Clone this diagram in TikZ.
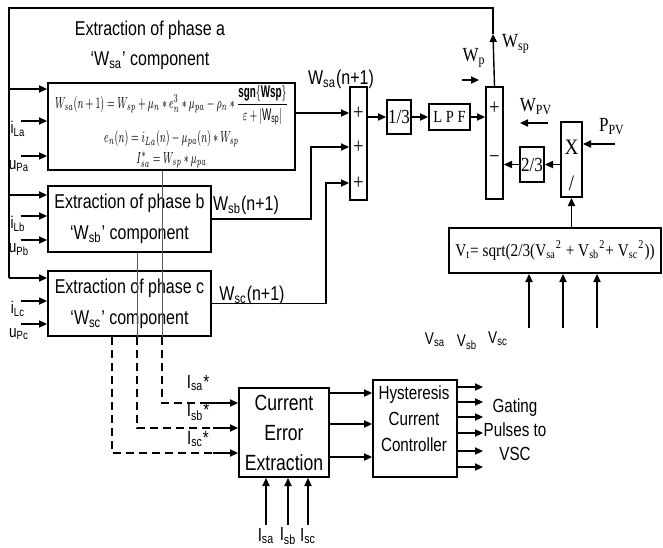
\documentclass[tikz,border=0pt]{standalone}
\usepackage{amsmath}
\usepackage{graphicx}
\usepackage{fontspec}
\setmainfont{Liberation Sans}
\newfontfamily\narrowsans[FakeStretch=0.8]{Liberation Sans}
\newfontfamily\narrowserif[FakeStretch=0.85]{Liberation Serif}
\usetikzlibrary{arrows.meta,calc}

\begin{document}
\begin{tikzpicture}[
    x=0.5pt, y=-0.5pt,
    >={Triangle[length=4pt,width=3.6pt]},
    line width=0.7pt,
    block/.style={
        rectangle,
        draw,
        line width=1pt,
        inner sep=0pt,
        align=center
    },
    sum bar/.style={
        block,
        minimum width=8.5pt,
        minimum height=56.5pt
    },
    sans/.style n args={2}{
        font=\narrowsans\fontsize{#1}{#2}\selectfont,
        inner sep=0pt,
        align=center
    },
    serif/.style n args={2}{
        font=\narrowserif\fontsize{#1}{#2}\selectfont,
        inner sep=0pt,
        align=center
    },
    guide line/.style={
        draw=black!65,
        line width=0.4pt
    },
    ref dash/.style={
        draw,
        line width=0.6pt,
        dash pattern=on 4pt off 2.5pt
    }
]
\useasboundingbox (0,0) rectangle (663,547);

% Phase extraction blocks
\node[sans={10}{15}] (titlea) at (150,45) {Extraction of phase a\\‘W\textsubscript{sa}’ component};
\node[block, minimum width=123.5pt, minimum height=43.5pt,
      font=\fontsize{8.5}{10.5}\selectfont] (boxa) at (171.5,126.5)
    {\scalebox{0.58}[1]{$W_{sa}(n+1) = W_{sp} + \mu_n * e_n^3 * \mu_{pa} - \rho_n * \dfrac{\mathbf{sgn\{Wsp\}}}{\varepsilon + |\mathrm{W_{sp}}|}$}\\[2pt]
     \scalebox{0.58}[1]{$e_n(n) = i_{La}(n) - \mu_{pa}(n) * W_{sp}$}\\
     \scalebox{0.58}[1]{$I^*_{sa} = W_{sp} * \mu_{pa}$}};
\node[block, sans={10}{15.5}, minimum width=81.5pt, minimum height=33pt] (boxb) at (129.5,219)
    {Extraction of phase b\\‘W\textsubscript{sb}’ component};
\node[block, sans={10}{15.5}, minimum width=81.5pt, minimum height=32.5pt] (boxc) at (129.5,303.5)
    {Extraction of phase c\\‘W\textsubscript{sc}’ component};

% Inputs of the extraction blocks
\coordinate (fbtop) at (493,8);
\coordinate (fbleft) at (9,8);
\foreach \bx/\ph/\df/\di/\du in {boxa/a/7/39/74, boxb/b/10/31/55, boxc/c/8/31/54} {
    \coordinate (feed\ph) at ($(\bx.north west)+(0,\df)$);
    \coordinate (inI\ph) at ($(\bx.north west)+(0,\di)$);
    \coordinate (inU\ph) at ($(\bx.north west)+(0,\du)$);
    \draw[->] (fbleft |- feed\ph) -- (feed\ph);
    \draw[->] ([xshift=-13pt]inI\ph) -- (inI\ph);
    \draw[->] ([xshift=-13pt]inU\ph) -- (inU\ph);
    \node[sans={8.5}{9}] (iL\ph) at ($(inI\ph)+(-29,8)$) {i\textsubscript{L\ph}};
    \node[sans={8.5}{9}] (uP\ph) at ($(inU\ph)+(-28,10)$) {u\textsubscript{P\ph}};
}

% First adder
\node[sum bar] (suma) at (358.5,143.5) {};
\node[serif={11}{11}] (pa1) at (358.5,113) {+};
\node[serif={11}{11}] (pa2) at (358.5,147) {+};
\node[serif={11}{11}] (pa3) at (358.5,183) {+};
\draw[->] (boxa.east |- pa1) -- (pa1 -| suma.west);
\draw[->] (boxb.east) -- ++(99,0) |- (pa2 -| suma.west);
\draw[->] (boxc.east) -- ++(114,0) |- (pa3 -| suma.west);
\node[sans={10}{10}] (wsalbl) at (341,79) {W\textsubscript{sa}(n+1)};
\node[sans={10}{10}] (wsblbl) at (246,205) {W\textsubscript{sb}(n+1)};
\node[sans={10}{10}] (wsclbl) at (252,295) {W\textsubscript{sc}(n+1)};

% Averaging and filter
\node[block, serif={10}{10}, minimum width=12pt, minimum height=17pt] (third) at (399,117) {1/3};
\node[block, serif={8.5}{8.5}, minimum width=20.5pt, minimum height=13pt] (lpf) at (449.5,117) {L P F};
\draw[->] (suma.east |- third) -- (third.west);
\draw[->] (third) -- (lpf);

% Second adder
\node[sum bar, minimum height=56pt] (sumb) at (494.5,143) {};
\node[serif={11}{11}] (pb1) at (494.5,108) {+};
\node[serif={11}{11}] (pb2) at (494.5,160) {−};
\draw[->] (lpf) -- (lpf -| sumb.west);

% PV feed-forward
\node[block, serif={10}{10}, minimum width=12pt, minimum height=17.5pt] (twothird) at (532,164.5) {2/3};
\node[block, minimum width=10.5pt, minimum height=37.5pt] (mult) at (571.5,159.5) {};
\node[serif={11}{11}] (multx) at (571.5,147) {X};
\node[serif={11}{11}] (multd) at (571.5,183) {/};
\node[block, serif={9}{9}, minimum width=106pt, minimum height=22.5pt] (vt) at (555,250.5)
    {V\textsubscript{t}= sqrt(2/3(V\textsubscript{sa}\textsuperscript{2} + V\textsubscript{sb}\textsuperscript{2}+ V\textsubscript{sc}\textsuperscript{2}))};
\draw[->] (twothird) -- (twothird -| sumb.east);
\draw[->] (mult.west |- twothird) -- (twothird.east);
\draw[->] (vt.north -| mult) -- (mult.south);
\coordinate (ppv) at (615,144);
\draw[->] (ppv) -- (ppv -| mult.east);
\node[serif={10}{10}] (ppvlbl) at (612,127) {P\textsubscript{PV}};
\coordinate (wpv) at (548,123);
\draw[->] (wpv) -- ++(-28,0);
\node[serif={10}{10}] (wpvlbl) at (536,107) {W\textsubscript{PV}};
\coordinate (wp) at (462,80);
\draw[->] (wp) -- ++(17,0);
\node[serif={10}{10}] (wplbl) at (474,58) {W\textsubscript{p}};
\foreach \xx/\nm in {529/sa, 563/sb, 597/sc} {
    \coordinate (v\nm) at (\xx,328);
    \draw[->] (v\nm) -- (v\nm |- vt.south);
}
\node[sans={8.5}{9}] (vsalbl) at (435,340) {V\textsubscript{sa}};
\node[sans={8.5}{9}] (vsblbl) at (467,342) {V\textsubscript{sb}};
\node[sans={8.5}{9}] (vsclbl) at (498,339) {V\textsubscript{sc}};

% Feedback of W_sp
\coordinate (wsptip) at (493,34);
\draw[->] (sumb.north) -- (wsptip);
\draw (wsptip) -- (fbtop) -- (fbleft) -- (fbleft |- feedc);
\node[serif={10}{10}] (wsplbl) at (516,44) {W\textsubscript{sp}};

% Reference currents
\coordinate (kA) at (162,403);
\coordinate (kB) at (137,428);
\coordinate (kC) at (112,453);
\coordinate (sA) at (207,403);
\coordinate (sB) at (213,428);
\coordinate (sC) at (213,453);
\draw[guide line] (boxa.south -| kA) -- (boxc.south -| kA);
\draw[guide line] (boxb.south -| kB) -- (boxc.south -| kB);
\draw[ref dash] (boxc.south -| kA) -- (kA) -- (sA);
\draw[ref dash] (boxc.south -| kB) -- (kB) -- (sB);
\draw[ref dash] (boxc.south -| kC) -- (kC) -- (sC);

% Current error extraction
\node[block, sans={11}{15}, minimum width=45pt, minimum height=44.5pt] (cee) at (284,432.5)
    {Current\\Error\\Extraction};
\draw[->] (sA) -- (sA -| cee.west);
\draw[->] (sB) -- (sB -| cee.west);
\draw[->] (sC) -- (sC -| cee.west);
\node[sans={9.5}{10}] (isalbl) at (198,383) {I\textsubscript{sa}*};
\node[sans={9.5}{10}] (isblbl) at (198,412) {I\textsubscript{sb}*};
\node[sans={9.5}{10}] (isclbl) at (198,439) {I\textsubscript{sc}*};
\foreach \xx/\nm in {266/sa, 288/sb, 308/sc} {
    \coordinate (m\nm) at (\xx,525);
    \draw[->] (m\nm) -- (m\nm |- cee.south);
    \node[sans={9.5}{10}] (lbl\nm) at (\xx,536) {I\textsubscript{\nm}};
}

% Hysteresis controller
\node[block, minimum width=42pt, minimum height=48.5pt] (hcc) at (415,428.5) {};
\node[sans={9.5}{13}] (hcctxt) at (414,419) {Hysteresis\\Current\\Controller};
\foreach \yy in {393,424,457}
    \draw[->] (cee.east |- 0,\yy) -- (hcc.west |- 0,\yy);
\foreach \yy in {387,402,417,433,451,467}
    \draw[->] (hcc.east |- 0,\yy) -- ++(12.5pt,0);
\node[sans={9.5}{12}] (gate) at (515,430) {Gating\\Pulses to\\VSC};

\end{tikzpicture}
\end{document}
